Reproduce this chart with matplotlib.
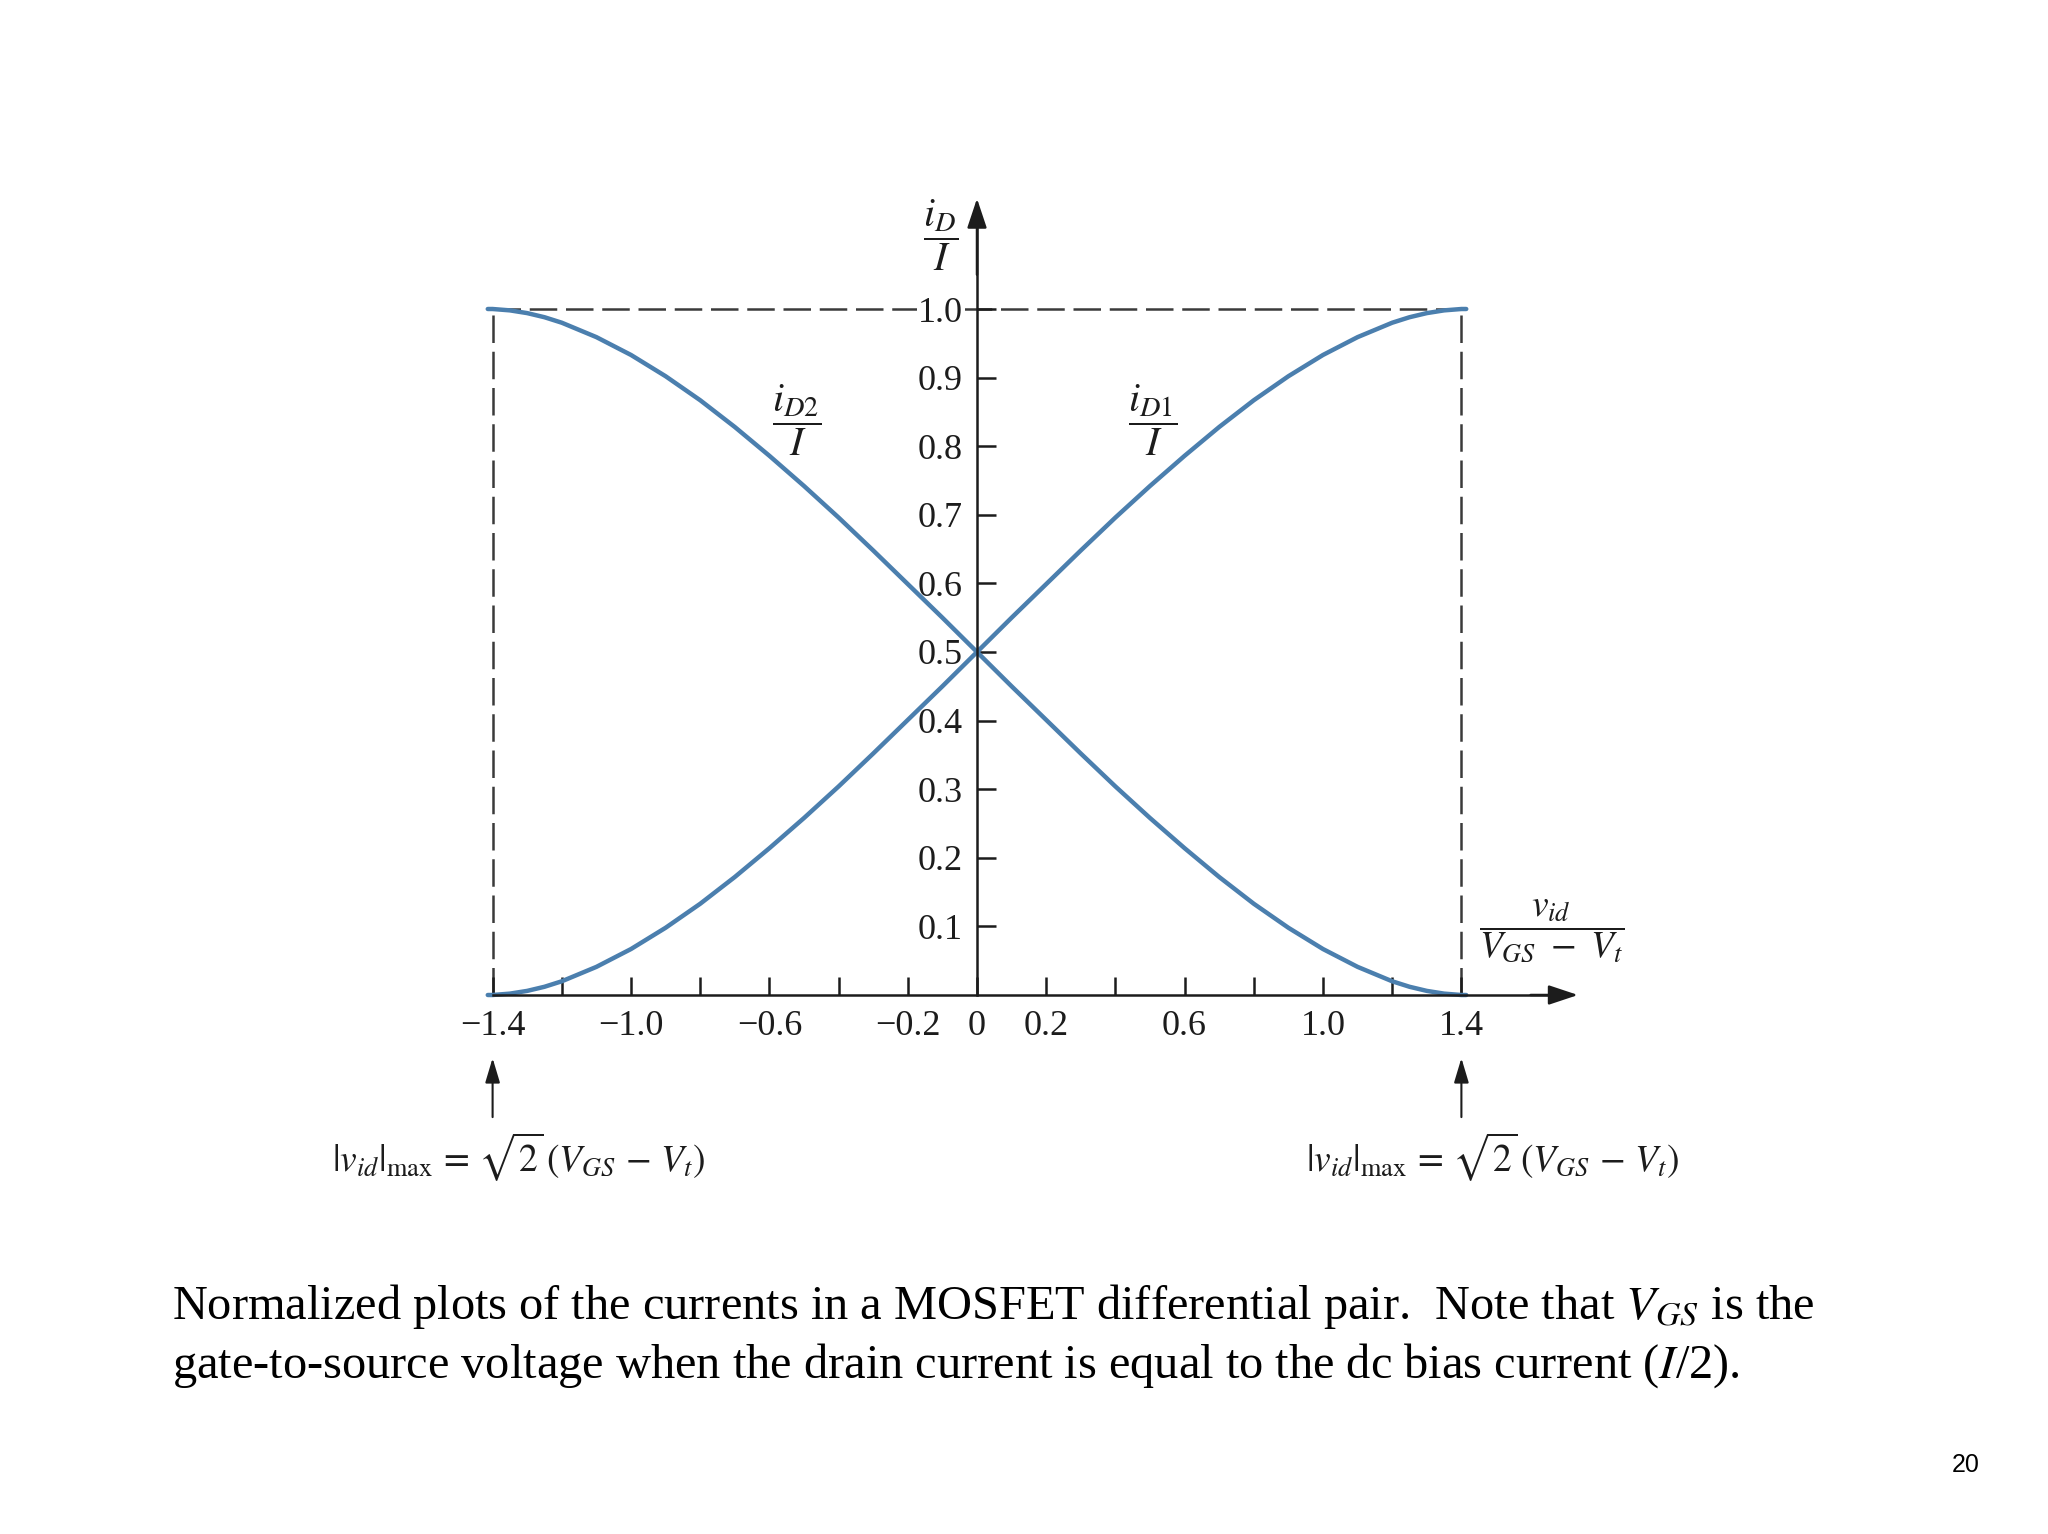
import matplotlib
matplotlib.use("Agg")
import matplotlib.pyplot as plt

plt.rcParams['font.family'] = ['Liberation Serif', 'DejaVu Serif']
plt.rcParams['mathtext.fontset'] = 'stix'

# normalized differential input  v_id / (V_GS - V_t)
vid_norm = [-1.414, -1.4, -1.35, -1.3, -1.25, -1.2, -1.1, -1.0, -0.9, -0.8, -0.7, -0.6, -0.5,
            -0.4, -0.3, -0.2, -0.1, 0.0, 0.1, 0.2, 0.3, 0.4, 0.5,
            0.6, 0.7, 0.8, 0.9, 1.0, 1.1, 1.2, 1.25, 1.3, 1.35, 1.4, 1.414]
id1_norm = [0.0, 0.0, 0.002, 0.006, 0.012, 0.020, 0.041, 0.067, 0.098, 0.133, 0.172, 0.214, 0.258,
            0.304, 0.352, 0.401, 0.450, 0.500, 0.550, 0.599, 0.648, 0.696, 0.742,
            0.786, 0.828, 0.867, 0.902, 0.933, 0.959, 0.980, 0.988, 0.994, 0.998, 1.0, 1.0]
id2_norm = [1.0, 1.0, 0.998, 0.994, 0.988, 0.980, 0.959, 0.933, 0.902, 0.867, 0.828, 0.786, 0.742,
            0.696, 0.648, 0.599, 0.550, 0.500, 0.450, 0.401, 0.352, 0.304, 0.258,
            0.214, 0.172, 0.133, 0.098, 0.067, 0.041, 0.020, 0.012, 0.006, 0.002, 0.0, 0.0]

x_ticks = [-1.4, -1.2, -1.0, -0.8, -0.6, -0.4, -0.2, 0.0, 0.2, 0.4, 0.6, 0.8, 1.0, 1.2, 1.4]
x_labels = ['\u22121.4', '', '\u22121.0', '', '\u22120.6', '', '\u22120.2', '0',
            '0.2', '', '0.6', '', '1.0', '', '1.4']
y_ticks = [0.1, 0.2, 0.3, 0.4, 0.5, 0.6, 0.7, 0.8, 0.9, 1.0]
y_labels = ['0.1', '0.2', '0.3', '0.4', '0.5', '0.6', '0.7', '0.8', '0.9', '1.0']

vid_max = 1.4
curve_color = '#4b7fae'
ink = '#1c1c1c'

fig = plt.figure(figsize=(20.48, 15.34), dpi=100)
ax = fig.add_axes([0, 0, 1, 1])
# whole figure is the data space so the origin lands where it sits on the slide
ax.set_xlim(-977 / 346, (2048 - 977) / 346)
ax.set_ylim((995 - 1534) / 686, 995 / 686)

for side in ['top', 'right']:
    ax.spines[side].set_visible(False)
ax.spines['left'].set_position(('data', 0))
ax.spines['bottom'].set_position(('data', 0))
ax.spines['left'].set_bounds(0, 1.12)
ax.spines['bottom'].set_bounds(-vid_max, 1.68)
for side in ['left', 'bottom']:
    ax.spines[side].set_linewidth(1.8)
    ax.spines[side].set_color(ink)
    ax.spines[side].set_zorder(3)

ax.set_xticks(x_ticks)
ax.set_xticklabels(x_labels)
ax.set_yticks(y_ticks)
ax.set_yticklabels(y_labels)
ax.tick_params(axis='x', direction='in', length=13, width=1.8, color=ink,
               labelsize=26, pad=11, labelcolor=ink)
ax.tick_params(axis='y', direction='in', length=14, width=1.8, color=ink,
               labelsize=26, pad=10, labelcolor=ink)
ax.get_yticklabels()[-1].set_bbox(dict(facecolor='white', edgecolor='none', pad=1))
ax.get_yticklabels()[-1].set_zorder(4)

# axis arrow heads
head = dict(arrowstyle='-|>,head_length=0.6,head_width=0.2', mutation_scale=30,
            lw=1.8, color=ink, shrinkA=0, shrinkB=0)
ax.annotate('', xy=(1.737, 0), xytext=(1.6, 0), arrowprops=head)
ax.annotate('', xy=(0, 1.161), xytext=(0, 1.05), arrowprops=head)

# dashed bounding box at the saturation limits
dash = dict(color='#3a3a3a', lw=1.8, linestyle=(0, (11, 3.5)), zorder=1)
ax.plot([-vid_max, vid_max], [1.0, 1.0], **dash)
ax.plot([-vid_max, -vid_max], [0, 1.0], **dash)
ax.plot([vid_max, vid_max], [0, 1.0], **dash)

ax.plot(vid_norm, id1_norm, color=curve_color, lw=3.2, solid_capstyle='round',
        solid_joinstyle='round', zorder=2)
ax.plot(vid_norm, id2_norm, color=curve_color, lw=3.2, solid_capstyle='round',
        solid_joinstyle='round', zorder=2)

ax.text(0.509, 0.838, r'$\dfrac{i_{D1}}{I}$', fontsize=29, ha='center', va='center', color=ink)
ax.text(-0.520, 0.838, r'$\dfrac{i_{D2}}{I}$', fontsize=29, ha='center', va='center', color=ink)
ax.text(-0.106, 1.108, r'$\dfrac{i_{D}}{I}$', fontsize=29, ha='center', va='center', color=ink)
ax.text(1.661, 0.093, r'$\dfrac{v_{id}}{V_{GS}\ -\ V_t}$', fontsize=27, ha='center',
        va='center', color=ink)

# |v_id|max markers
small = dict(arrowstyle='-|>,head_length=0.6,head_width=0.18', mutation_scale=25,
             lw=1.5, color=ink, shrinkA=0, shrinkB=0)
for xm, xt in [(-vid_max, -1.325), (vid_max, 1.491)]:
    ax.annotate('', xy=(xm, -0.092), xytext=(xm, -0.178), arrowprops=small)
    ax.text(xt, -0.235, r'$|v_{id}|_{\mathrm{max}}\, =\, \sqrt{2}\,(V_{GS}\, -\, V_t)$',
            fontsize=27, ha='center', va='center', color=ink)

fig.text(0.084, 0.1486, 'Normalized plots of the currents in a MOSFET differential pair.  '
         r'Note that $V_{GS}$ is the', fontsize=34.8, ha='left', va='center', color='black')
fig.text(0.084, 0.110, 'gate-to-source voltage when the drain current is equal to the dc bias '
         r'current ($I$/2).', fontsize=34.8, ha='left', va='center', color='black')
fig.text(0.960, 0.045, '20', fontsize=18, ha='center', va='center',
         family=['Liberation Sans', 'DejaVu Sans'], color='black')

fig.savefig('out.png', dpi=100, facecolor='white')
